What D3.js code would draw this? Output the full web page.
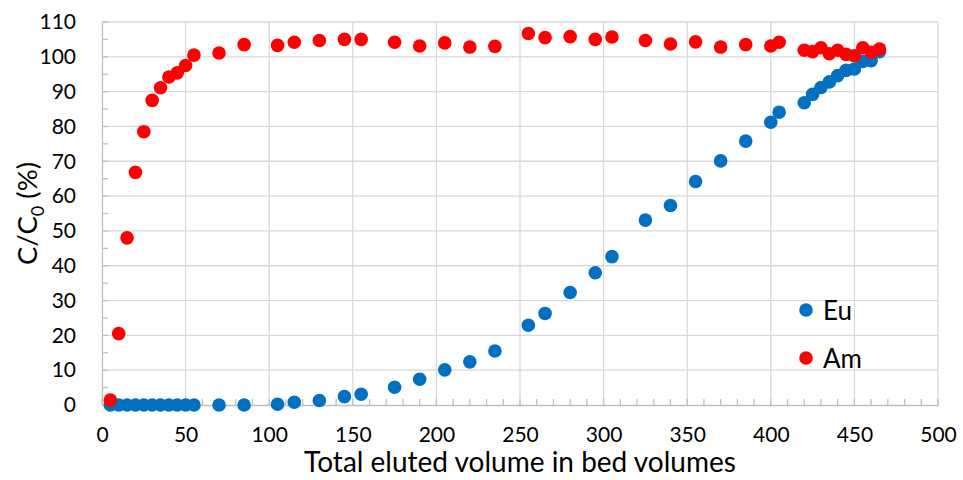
<!DOCTYPE html>
<html>
<head>
<meta charset="utf-8">
<script src="https://cdn.jsdelivr.net/npm/d3@7"></script>
<style>
  body { margin: 0; background: #fff; }
  svg { font-family: Lato, "Open Sans", sans-serif; }
</style>
</head>
<body>
<svg width="963" height="480"></svg>
<script>
// Bed volumes and C/C0 (%)
var euX = [5, 10, 15, 20, 25, 30, 35, 40, 45, 50, 55, 70, 85, 105, 115, 130, 145, 155, 175, 190,
    205, 220, 235, 255, 265, 280, 295, 305, 325, 340, 355, 370, 385, 400, 405, 420, 425, 430,
    435, 440, 445, 450, 455, 460, 465];
var euY = [0, 0, 0, 0, 0, 0, 0, 0, 0, 0, 0, 0, 0, 0.2, 0.8, 1.3, 2.4, 3.1, 5.1, 7.4,
    10.1, 12.4, 15.5, 22.9, 26.3, 32.3, 38, 42.6, 53.1, 57.3, 64.2, 70.1, 75.8, 81.2, 84.1, 86.8, 89.2, 91.2,
    92.8, 94.6, 96.1, 96.5, 98.7, 98.9, 101.5];
var amX = [5, 10, 15, 20, 25, 30, 35, 40, 45, 50, 55, 70, 85, 105, 115, 130, 145, 155, 175, 190,
    205, 220, 235, 255, 265, 280, 295, 305, 325, 340, 355, 370, 385, 400, 405, 420, 425, 430,
    435, 440, 445, 450, 455, 460, 465];
var amY = [1.4, 20.5, 48, 66.8, 78.5, 87.5, 91.1, 94.2, 95.4, 97.5, 100.5, 101.1, 103.5, 103.3, 104.2, 104.7, 105, 105, 104.2, 103.1,
    104, 102.8, 103, 106.7, 105.5, 105.8, 105, 105.7, 104.7, 103.7, 104.3, 102.8, 103.5, 103.1, 104.2, 101.9, 101.5, 102.6,
    100.9, 101.9, 100.7, 100.3, 102.6, 101.3, 102.2];
var seriesNames = ['Eu', 'Am'];
var seriesColors = ['#0070C0', '#FF0000'];
var xTicks = [0, 50, 100, 150, 200, 250, 300, 350, 400, 450, 500];
var yTicks = [0, 10, 20, 30, 40, 50, 60, 70, 80, 90, 100, 110];

var svg = d3.select('svg');
var margin = {top: 22, right: 25, bottom: 75, left: 102};
var width = 963 - margin.left - margin.right;
var height = 480 - margin.top - margin.bottom;

var g = svg.append('g')
    .attr('transform', 'translate(' + margin.left + ',' + margin.top + ')');

var x = d3.scaleLinear().domain([0, 500]).range([0, width]);
var y = d3.scaleLinear().domain([0, 110]).range([height, 0]);

// gridlines
g.selectAll('.hgrid').data(yTicks.slice(1)).enter().append('line')
    .attr('x1', 0).attr('x2', width)
    .attr('y1', function(d){ return y(d); })
    .attr('y2', function(d){ return y(d); })
    .attr('stroke', '#d9d9d9').attr('stroke-width', 1.3);
g.selectAll('.vgrid').data(xTicks.slice(1)).enter().append('line')
    .attr('y1', 0).attr('y2', height)
    .attr('x1', function(d){ return x(d); })
    .attr('x2', function(d){ return x(d); })
    .attr('stroke', '#d9d9d9').attr('stroke-width', 1.3);

// minor ticks, pointing inwards
g.selectAll('.xminor').data(d3.range(0, 501, 10)).enter().append('line')
    .attr('x1', function(d){ return x(d); })
    .attr('x2', function(d){ return x(d); })
    .attr('y1', height).attr('y2', height - 6)
    .attr('stroke', '#bfbfbf').attr('stroke-width', 1.3);
g.selectAll('.yminor').data(d3.range(0, 111, 5)).enter().append('line')
    .attr('y1', function(d){ return y(d); })
    .attr('y2', function(d){ return y(d); })
    .attr('x1', 0).attr('x2', 6)
    .attr('stroke', '#bfbfbf').attr('stroke-width', 1.3);

// axes
var xAxis = g.append('g')
    .attr('transform', 'translate(0,' + height + ')')
    .call(d3.axisBottom(x).tickValues(xTicks).tickSize(0).tickPadding(22));
var yAxis = g.append('g')
    .call(d3.axisLeft(y).tickValues(yTicks).tickSize(0).tickPadding(26));
[xAxis, yAxis].forEach(function(a){
    a.select('.domain').attr('stroke', '#bfbfbf').attr('stroke-width', 1.3);
    a.selectAll('text').attr('font-size', 21).attr('fill', '#000')
        .attr('font-family', 'Lato, "Open Sans", sans-serif');
});

// axis titles
svg.append('text')
    .attr('x', margin.left + x(250)).attr('y', 472)
    .attr('text-anchor', 'middle')
    .attr('font-size', 28)
    .text('Total eluted volume in bed volumes');

var yt = svg.append('text')
    .attr('transform', 'translate(37,' + (margin.top + y(55)) + ') rotate(-90)')
    .attr('text-anchor', 'middle')
    .attr('font-size', 27.5);
yt.append('tspan').text('C/C');
yt.append('tspan').attr('font-size', 18).attr('dy', 7).text('0');
yt.append('tspan').attr('dy', -7).text(' (%)');

// points
var series = [
    euX.map(function(v, i){ return [v, euY[i]]; }),
    amX.map(function(v, i){ return [v, amY[i]]; })
];
series.forEach(function(data, k){
    g.selectAll('.s' + k).data(data).enter().append('circle')
        .attr('cx', function(d){ return x(d[0]); })
        .attr('cy', function(d){ return y(d[1]); })
        .attr('r', 6.8)
        .attr('fill', seriesColors[k]);
});

// legend
var legend = svg.append('g').attr('transform', 'translate(806,310)');
seriesNames.forEach(function(name, k){
    var row = legend.append('g').attr('transform', 'translate(0,' + (k * 48) + ')');
    row.append('circle').attr('r', 6.8).attr('fill', seriesColors[k]);
    row.append('text').attr('x', 17).attr('y', 9.5)
        .attr('font-size', 26).text(name);
});
</script>
</body>
</html>
